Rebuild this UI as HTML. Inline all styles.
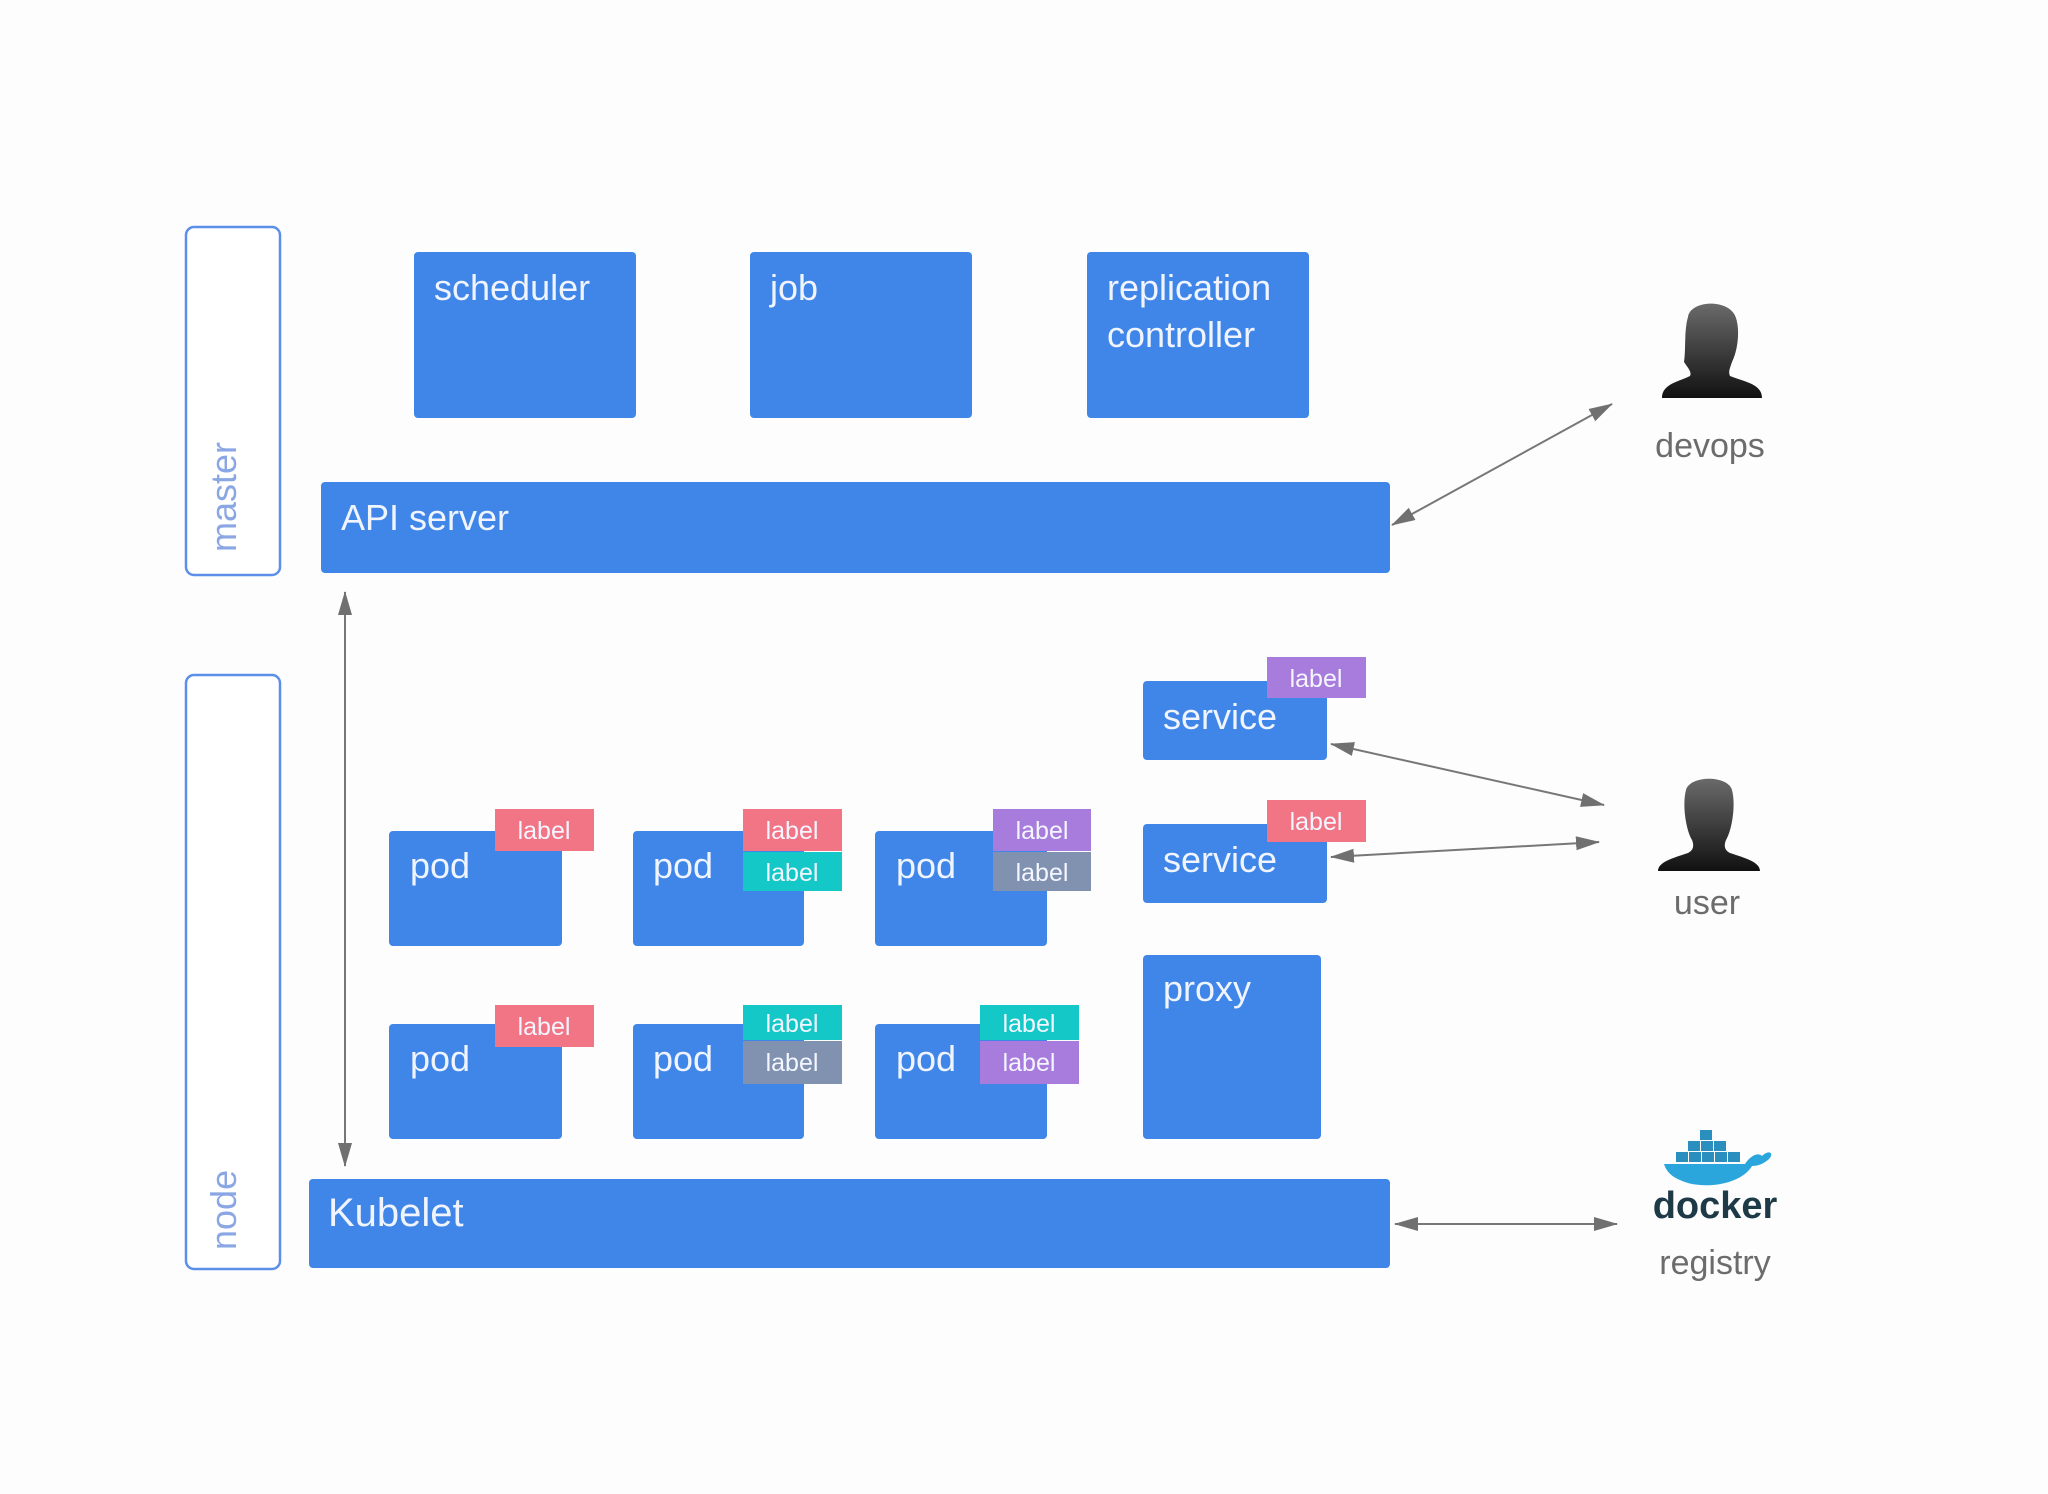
<!DOCTYPE html>
<html><head><meta charset="utf-8"><style>
html,body{margin:0;padding:0;background:#fdfdfe;}
svg{display:block;}
text{font-family:"Liberation Sans",sans-serif;}
</style></head><body>
<svg width="2048" height="1494" viewBox="0 0 2048 1494" xmlns="http://www.w3.org/2000/svg">
<defs>
<marker id="ah" markerWidth="12" markerHeight="10" refX="11" refY="5" orient="auto-start-reverse" markerUnits="userSpaceOnUse" viewBox="0 0 12 10">
<path d="M0,0 L12,5 L0,10 Z" fill="#707070"/>
</marker>
<marker id="ah2" markerWidth="24" markerHeight="14" refX="23" refY="7" orient="auto-start-reverse" markerUnits="userSpaceOnUse" viewBox="0 0 24 14">
<path d="M0,0 L24,7 L0,14 Z" fill="#707070"/>
</marker>
</defs>
<rect width="2048" height="1494" fill="#fdfdfe"/>

<!-- master / node boxes -->
<rect x="186" y="227" width="94" height="348" rx="8" fill="#fff" stroke="#5b8fe8" stroke-width="2.5"/>
<text transform="translate(236,552) rotate(-90)" font-size="36" fill="#8aa6e4">master</text>
<rect x="186" y="675" width="94" height="594" rx="8" fill="#fff" stroke="#5b8fe8" stroke-width="2.5"/>
<text transform="translate(236,1250) rotate(-90)" font-size="36" fill="#8aa6e4">node</text>

<g fill="#3f86e8">
<rect x="414" y="252" width="222" height="166" rx="4"/>
<rect x="750" y="252" width="222" height="166" rx="4"/>
<rect x="1087" y="252" width="222" height="166" rx="4"/>
<rect x="321" y="482" width="1069" height="91" rx="4"/>
<rect x="309" y="1179" width="1081" height="89" rx="4"/>
<rect x="389" y="831" width="173" height="115" rx="4"/>
<rect x="633" y="831" width="171" height="115" rx="4"/>
<rect x="875" y="831" width="172" height="115" rx="4"/>
<rect x="389" y="1024" width="173" height="115" rx="4"/>
<rect x="633" y="1024" width="171" height="115" rx="4"/>
<rect x="875" y="1024" width="172" height="115" rx="4"/>
<rect x="1143" y="681" width="184" height="79" rx="4"/>
<rect x="1143" y="824" width="184" height="79" rx="4"/>
<rect x="1143" y="955" width="178" height="184" rx="4"/>
</g>

<g fill="#f0f4ff" font-size="36">
<text x="434" y="300">scheduler</text>
<text x="770" y="300">job</text>
<text x="1107" y="300">replication</text>
<text x="1107" y="347">controller</text>
<text x="341" y="530">API server</text>
<text x="328" y="1226" font-size="40">Kubelet</text>
<text x="410" y="878">pod</text>
<text x="653" y="878">pod</text>
<text x="896" y="878">pod</text>
<text x="410" y="1071">pod</text>
<text x="653" y="1071">pod</text>
<text x="896" y="1071">pod</text>
<text x="1163" y="729">service</text>
<text x="1163" y="872">service</text>
<text x="1163" y="1001">proxy</text>
</g>

<!-- labels -->
<g>
<rect x="495" y="809" width="99" height="42" fill="#f27585"/>
<rect x="743" y="809" width="99" height="42" fill="#f27585"/>
<rect x="743" y="852" width="99" height="39" fill="#14c8c8"/>
<rect x="993" y="809" width="98" height="42" fill="#a87cdc"/>
<rect x="993" y="852" width="98" height="39" fill="#8092b0"/>
<rect x="495" y="1005" width="99" height="42" fill="#f27585"/>
<rect x="743" y="1005" width="99" height="35" fill="#14c8c8"/>
<rect x="743" y="1041" width="99" height="43" fill="#8092b0"/>
<rect x="980" y="1005" width="99" height="35" fill="#14c8c8"/>
<rect x="980" y="1041" width="99" height="43" fill="#a87cdc"/>
<rect x="1267" y="657" width="99" height="41" fill="#a87cdc"/>
<rect x="1267" y="800" width="99" height="42" fill="#f27585"/>
</g>
<g fill="#f4f6ff" font-size="25" text-anchor="middle">
<text x="544" y="839">label</text>
<text x="792" y="839">label</text>
<text x="792" y="881">label</text>
<text x="1042" y="839">label</text>
<text x="1042" y="881">label</text>
<text x="544" y="1035">label</text>
<text x="792" y="1032">label</text>
<text x="792" y="1071">label</text>
<text x="1029" y="1032">label</text>
<text x="1029" y="1071">label</text>
<text x="1316" y="687">label</text>
<text x="1316" y="830">label</text>
</g>

<!-- arrows -->
<g stroke="#777" stroke-width="2" fill="none">
<line x1="345" y1="592" x2="345" y2="1166" marker-start="url(#ah2)" marker-end="url(#ah2)"/>
<line x1="1392" y1="525" x2="1612" y2="404" marker-start="url(#ah2)" marker-end="url(#ah2)"/>
<line x1="1331" y1="744" x2="1604" y2="805" marker-start="url(#ah2)" marker-end="url(#ah2)"/>
<line x1="1331" y1="857" x2="1599" y2="842" marker-start="url(#ah2)" marker-end="url(#ah2)"/>
<line x1="1395" y1="1224" x2="1617" y2="1224" marker-start="url(#ah2)" marker-end="url(#ah2)"/>
</g>

<!-- person icons -->
<defs>
<linearGradient id="pg" x1="0" y1="0" x2="0" y2="1">
<stop offset="0" stop-color="#6a6a6a"/><stop offset="1" stop-color="#111"/>
</linearGradient>
</defs>
<g fill="url(#pg)">
<path d="M1688,317 C1690,300 1730,298 1736,318 C1740,330 1738,350 1732,362 C1730,368 1728,372 1730,376 C1745,382 1762,384 1762,398 L1662,398 C1662,384 1678,382 1690,376 C1692,372 1688,368 1684,362 C1686,350 1684,330 1688,317 Z"/>
<path d="M1686,790 C1690,775 1728,775 1732,790 C1736,805 1732,830 1726,840 C1724,845 1724,850 1730,853 C1745,858 1760,862 1760,871 L1658,871 C1658,862 1673,858 1688,853 C1694,850 1694,845 1692,840 C1686,830 1682,805 1686,790 Z"/>
</g>
<g fill="#6c6c6c" font-size="34" text-anchor="middle">
<text x="1710" y="457">devops</text>
<text x="1707" y="914">user</text>
<text x="1715" y="1274">registry</text>
</g>

<!-- docker whale -->
<g>
<g fill="#2a8fbf">
<rect x="1700" y="1130" width="12" height="10"/>
<rect x="1688" y="1141" width="12" height="10"/><rect x="1701" y="1141" width="12" height="10"/><rect x="1714" y="1141" width="12" height="10"/>
<rect x="1676" y="1152" width="12" height="10"/><rect x="1689" y="1152" width="12" height="10"/><rect x="1702" y="1152" width="12" height="10"/><rect x="1715" y="1152" width="12" height="10"/><rect x="1728" y="1152" width="12" height="10"/>
</g>
<path d="M1664,1164 L1745,1164 C1750,1156 1758,1152 1762,1156 C1768,1150 1774,1152 1770,1158 C1764,1164 1758,1166 1752,1166 C1740,1186 1700,1190 1680,1180 C1670,1176 1666,1170 1664,1164 Z" fill="#2aa6dc"/>
<text x="1715" y="1218" text-anchor="middle" font-size="38" font-weight="bold" fill="#1e3a46">docker</text>
</g>
</svg>
</body></html>
